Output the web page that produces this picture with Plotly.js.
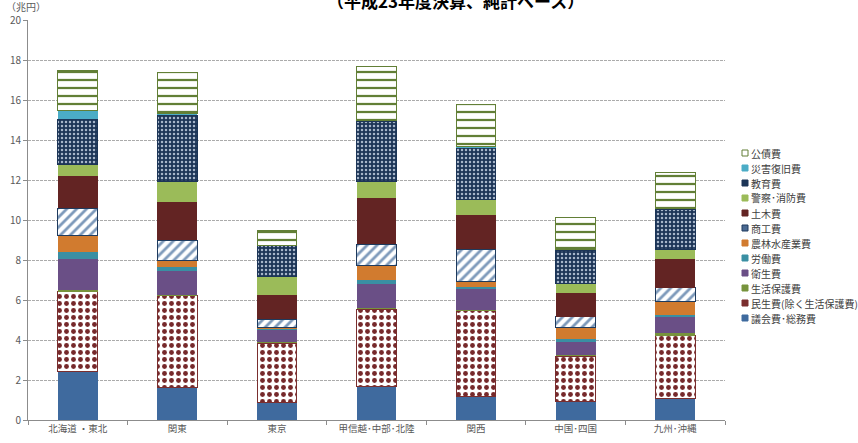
<!DOCTYPE html>
<html>
<head>
<meta charset="utf-8">
<script src="https://cdn.plot.ly/plotly-3.0.1.min.js"></script>
<style>
  html, body { margin: 0; padding: 0; background: #fff; }
  #chart { width: 858px; height: 443px; }
</style>
</head>
<body>
<div id="chart"></div>
<script>
// 地域ブロック別の歳出（目的別）内訳、単位：兆円
const regions = ['北海道 ・東北', '関東', '東京', '甲信越･中部･北陸', '関西', '中国･四国', '九州･沖縄'];

// 積み上げ順（下から）
const gikai     = [2.42, 1.62, 0.87, 1.67, 1.17, 0.92, 1.08]; // 議会費・総務費
const minsei    = [4.00, 4.60, 2.98, 3.88, 4.30, 2.28, 3.14]; // 民生費（除く生活保護費）
const seikatsu  = [0.08, 0.03, 0.05, 0.03, 0.03, 0.05, 0.11]; // 生活保護費
const eisei     = [1.53, 1.20, 0.62, 1.20, 1.03, 0.67, 0.80]; // 衛生費
const roudou    = [0.39, 0.22, 0.05, 0.22, 0.10, 0.11, 0.12]; // 労働費
const nourin    = [0.83, 0.30, 0.05, 0.72, 0.29, 0.59, 0.67]; // 農林水産業費
const shoukou   = [1.33, 1.03, 0.41, 1.08, 1.61, 0.55, 0.70]; // 商工費
const doboku    = [1.62, 1.92, 1.22, 2.28, 1.72, 1.20, 1.41]; // 土木費
const keisatsu  = [0.58, 1.00, 0.92, 0.84, 0.80, 0.46, 0.50]; // 警察・消防費
const kyouiku   = [2.25, 3.31, 1.55, 3.03, 2.57, 1.67, 2.00]; // 教育費
const saigai    = [0.47, 0.10, 0.03, 0.05, 0.05, 0.03, 0.05]; // 災害復旧費
const kousai    = [2.00, 2.05, 0.72, 2.70, 2.11, 1.60, 1.79]; // 公債費

const seriesNames = ['議会費･総務費', '民生費(除く生活保護費)', '生活保護費', '衛生費', '労働費',
  '農林水産業費', '商工費', '土木費', '警察･消防費', '教育費', '災害復旧費', '公債費'];
const seriesValues = [gikai, minsei, seikatsu, eisei, roudou, nourin, shoukou, doboku,
  keisatsu, kyouiku, saigai, kousai];

// 各系列の塗り（単色 or パターン）
const styles = [
  { color: '#3F6A9E' },
  { color: '#FFFFFF', line: '#7A2E2E', pattern: { shape: '.', fgcolor: '#76292B', bgcolor: '#FFFFFF', size: 7, solidity: 0.38, fgopacity: 1, fillmode: 'overlay' }, swatch: '#7A2E2E' },
  { color: '#77933C' },
  { color: '#6A4F86' },
  { color: '#3A8FA3' },
  { color: '#D17B2F' },
  { color: '#FFFFFF', line: '#1F3B5E', pattern: { shape: '/', fgcolor: '#7D99BA', bgcolor: '#FFFFFF', size: 7, solidity: 0.4, fgopacity: 1, fillmode: 'overlay' }, swatch: '#4A6A92' },
  { color: '#632423' },
  { color: '#9BBB59' },
  { color: '#1C3557', line: '#1C3557', pattern: { shape: '.', fgcolor: '#A7B6CA', bgcolor: '#1C3557', size: 4, solidity: 0.3, fgopacity: 1, fillmode: 'overlay' }, swatch: '#1C3557' },
  { color: '#4BACC6' },
  { color: '#FFFFFF', line: '#627F36', pattern: { shape: '-', fgcolor: '#627F36', bgcolor: '#FFFFFF', size: 8, solidity: 0.28, fgopacity: 1, fillmode: 'overlay' }, swatch: '#FFFFFF' }
];

const traces = seriesValues.map((vals, i) => {
  const s = styles[i];
  const marker = { color: s.color, line: { color: s.line || s.color, width: s.line ? 1 : 0 } };
  if (s.pattern) marker.pattern = s.pattern;
  return {
    type: 'bar', name: seriesNames[i], x: regions, y: vals, marker: marker,
    showlegend: false, hoverinfo: 'x+y+name'
  };
});

// 凡例（上から公債費…議会費・総務費）
const plotTop = 20, plotBottom = 420, plotLeft = 28, plotRight = 725;
const toPaperY = px => (plotBottom - px) / (plotBottom - plotTop);
const toPaperX = px => (px - plotLeft) / (plotRight - plotLeft);
const legendShapes = [];
const legendAnnotations = [];
for (let k = 0; k < seriesNames.length; k++) {
  const i = seriesNames.length - 1 - k;
  const cy = 153 + k * 15;
  const s = styles[i];
  legendShapes.push({
    type: 'rect', xref: 'paper', yref: 'paper',
    x0: toPaperX(742), x1: toPaperX(748), y0: toPaperY(cy + 3), y1: toPaperY(cy - 3),
    fillcolor: s.swatch || s.color, line: { color: s.line || s.color, width: 1 }
  });
  legendAnnotations.push({
    xref: 'paper', yref: 'paper', x: toPaperX(749), y: toPaperY(cy),
    xanchor: 'left', yanchor: 'middle', showarrow: false, text: seriesNames[i],
    font: { family: 'Noto Sans CJK JP, sans-serif', size: 10, color: '#404040' }
  });
}

const layout = {
  width: 858, height: 443,
  margin: { l: plotLeft, r: 858 - plotRight, t: plotTop, b: 443 - plotBottom },
  paper_bgcolor: '#FFFFFF', plot_bgcolor: '#FFFFFF',
  barmode: 'stack', bargap: 0.6,
  font: { family: 'Noto Sans CJK JP, sans-serif', size: 10, color: '#595959' },
  xaxis: {
    type: 'category', showline: true, linecolor: '#8C8C8C', linewidth: 1,
    ticks: 'outside', ticklen: 4, tickcolor: '#8C8C8C', tickson: 'boundaries',
    showgrid: false, tickfont: { size: 9.5, color: '#595959' }
  },
  yaxis: {
    range: [0, 20], dtick: 2, showline: true, linecolor: '#8C8C8C', linewidth: 1,
    ticks: 'outside', ticklen: 4, tickcolor: '#8C8C8C',
    showgrid: true, gridcolor: '#ABABAB', griddash: '3px,1px', gridwidth: 1,
    zeroline: false, tickfont: { size: 10, color: '#595959' }
  },
  shapes: legendShapes,
  annotations: legendAnnotations.concat([
    {
      xref: 'paper', yref: 'paper', x: toPaperX(456), y: 1, yshift: 20,
      xanchor: 'center', yanchor: 'middle', showarrow: false,
      text: '（平成23年度決算、純計ベース）',
      font: { family: 'Noto Sans CJK JP, sans-serif', size: 17, color: '#000000', weight: 700 }
    },
    {
      xref: 'paper', yref: 'paper', x: toPaperX(4), y: 1, yshift: 13.5,
      xanchor: 'left', yanchor: 'middle', showarrow: false,
      text: '（兆円）',
      font: { family: 'Noto Sans CJK JP, sans-serif', size: 10, color: '#595959' }
    }
  ])
};

Plotly.newPlot('chart', traces, layout, { displayModeBar: false, staticPlot: true });
</script>
</body>
</html>
